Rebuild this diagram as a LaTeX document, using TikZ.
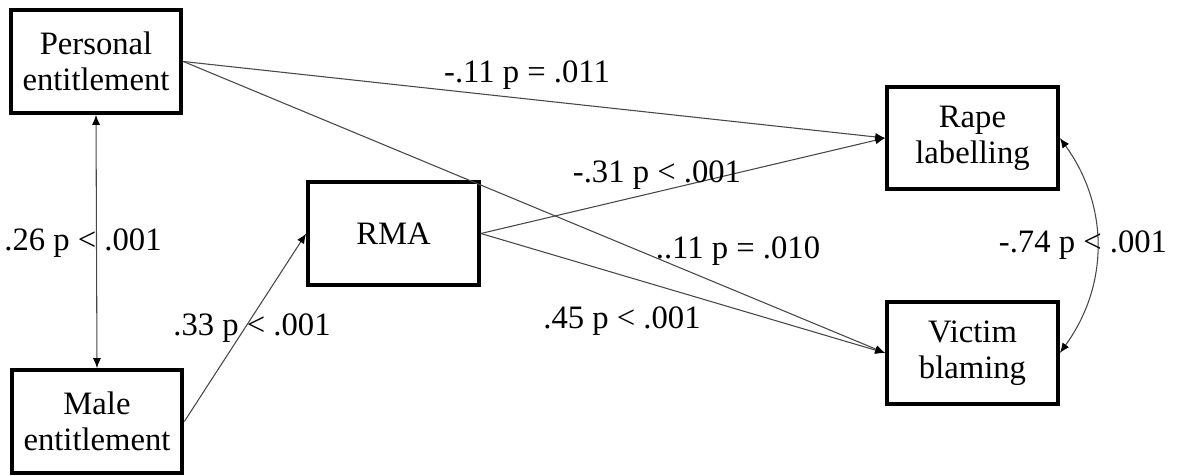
\documentclass[tikz,border=0pt]{standalone}
\usepackage{fontspec}
\setmainfont{Liberation Serif}
\usetikzlibrary{arrows.meta}
\tikzset{
  box/.style={draw=black, line width=3pt, minimum width=128pt, minimum height=77pt, inner sep=0pt, align=center, font=\fontsize{24.5}{27}\selectfont},
  lab/.style={anchor=base, inner sep=0pt, font=\fontsize{24.5}{27}\selectfont},
  tip/.tip={Latex[length=7.5pt,width=6pt,black]},
  conn/.style={draw=black!72, line width=0.8pt, -tip},
  dconn/.style={draw=black!72, line width=0.8pt, tip-tip}
}
\begin{document}
\begin{tikzpicture}[x=0.75pt, y=-0.75pt]
\useasboundingbox (0,0) rectangle (1178,475);
\node[box] (pe) at (96,61.5) {Personal\\entitlement};
\node[box] (me) at (97,421.5) {Male\\entitlement};
\node[box] (rma) at (393.5,233.5) {RMA};
\node[box] (rl) at (972.5,138) {Rape\\labelling};
\node[box] (vb) at (972.5,353) {Victim\\blaming};

\draw[conn] (pe.east) -- (rl.west);
\draw[conn] (pe.east) -- (vb.west);
\draw[conn] (rma.east) -- (rl.west);
\draw[conn] (rma.east) -- (vb.west);
\draw[conn] (me.east) -- (rma.west);
\draw[dconn] (pe.south) -- (me.north);
\draw[dconn] (rl.east) to[bend left=36] (vb.east);

\node[lab] (l1) at (527,82) {-.11 p = .011};
\node[lab] (l2) at (657,182) {-.31 p < .001};
\node[lab] (l3) at (738,258) {..11 p = .010};
\node[lab] (l4) at (622,328) {.45 p < .001};
\node[lab] (l5) at (83,250) {.26 p < .001};
\node[lab] (l6) at (252,335) {.33 p < .001};
\node[lab] (l7) at (1083,252) {-.74 p < .001};
\end{tikzpicture}
\end{document}
